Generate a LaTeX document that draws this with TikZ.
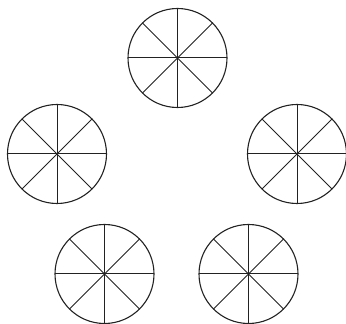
\documentclass[tikz,border=0pt]{standalone}
\usepackage{tikz}
\usetikzlibrary{calc}
\definecolor{ink}{HTML}{222222}
\begin{document}
\begin{tikzpicture}[x=1pt,y=1pt,
  rim/.style={draw=ink,line width=1.1pt},
  spoke/.style={draw=ink,line width=1pt}]
\useasboundingbox (0,0) rectangle (346,324);
% wheel centres
\coordinate (wtop) at (177.5,266);
\coordinate (wleft) at (57,170);
\coordinate (wright) at (297,170);
\coordinate (wbotl) at (104.5,50);
\coordinate (wbotr) at (248.5,50);
% wheels with eight sectors
\foreach \c in {wtop,wleft,wright,wbotl,wbotr}{
  \draw[rim] (\c) circle (49.5);
  \foreach \a in {0,45,90,135}
    \draw[spoke] ($(\c)+(\a:49.5)$) -- ($(\c)+(\a+180:49.5)$);
}
\end{tikzpicture}
\end{document}
